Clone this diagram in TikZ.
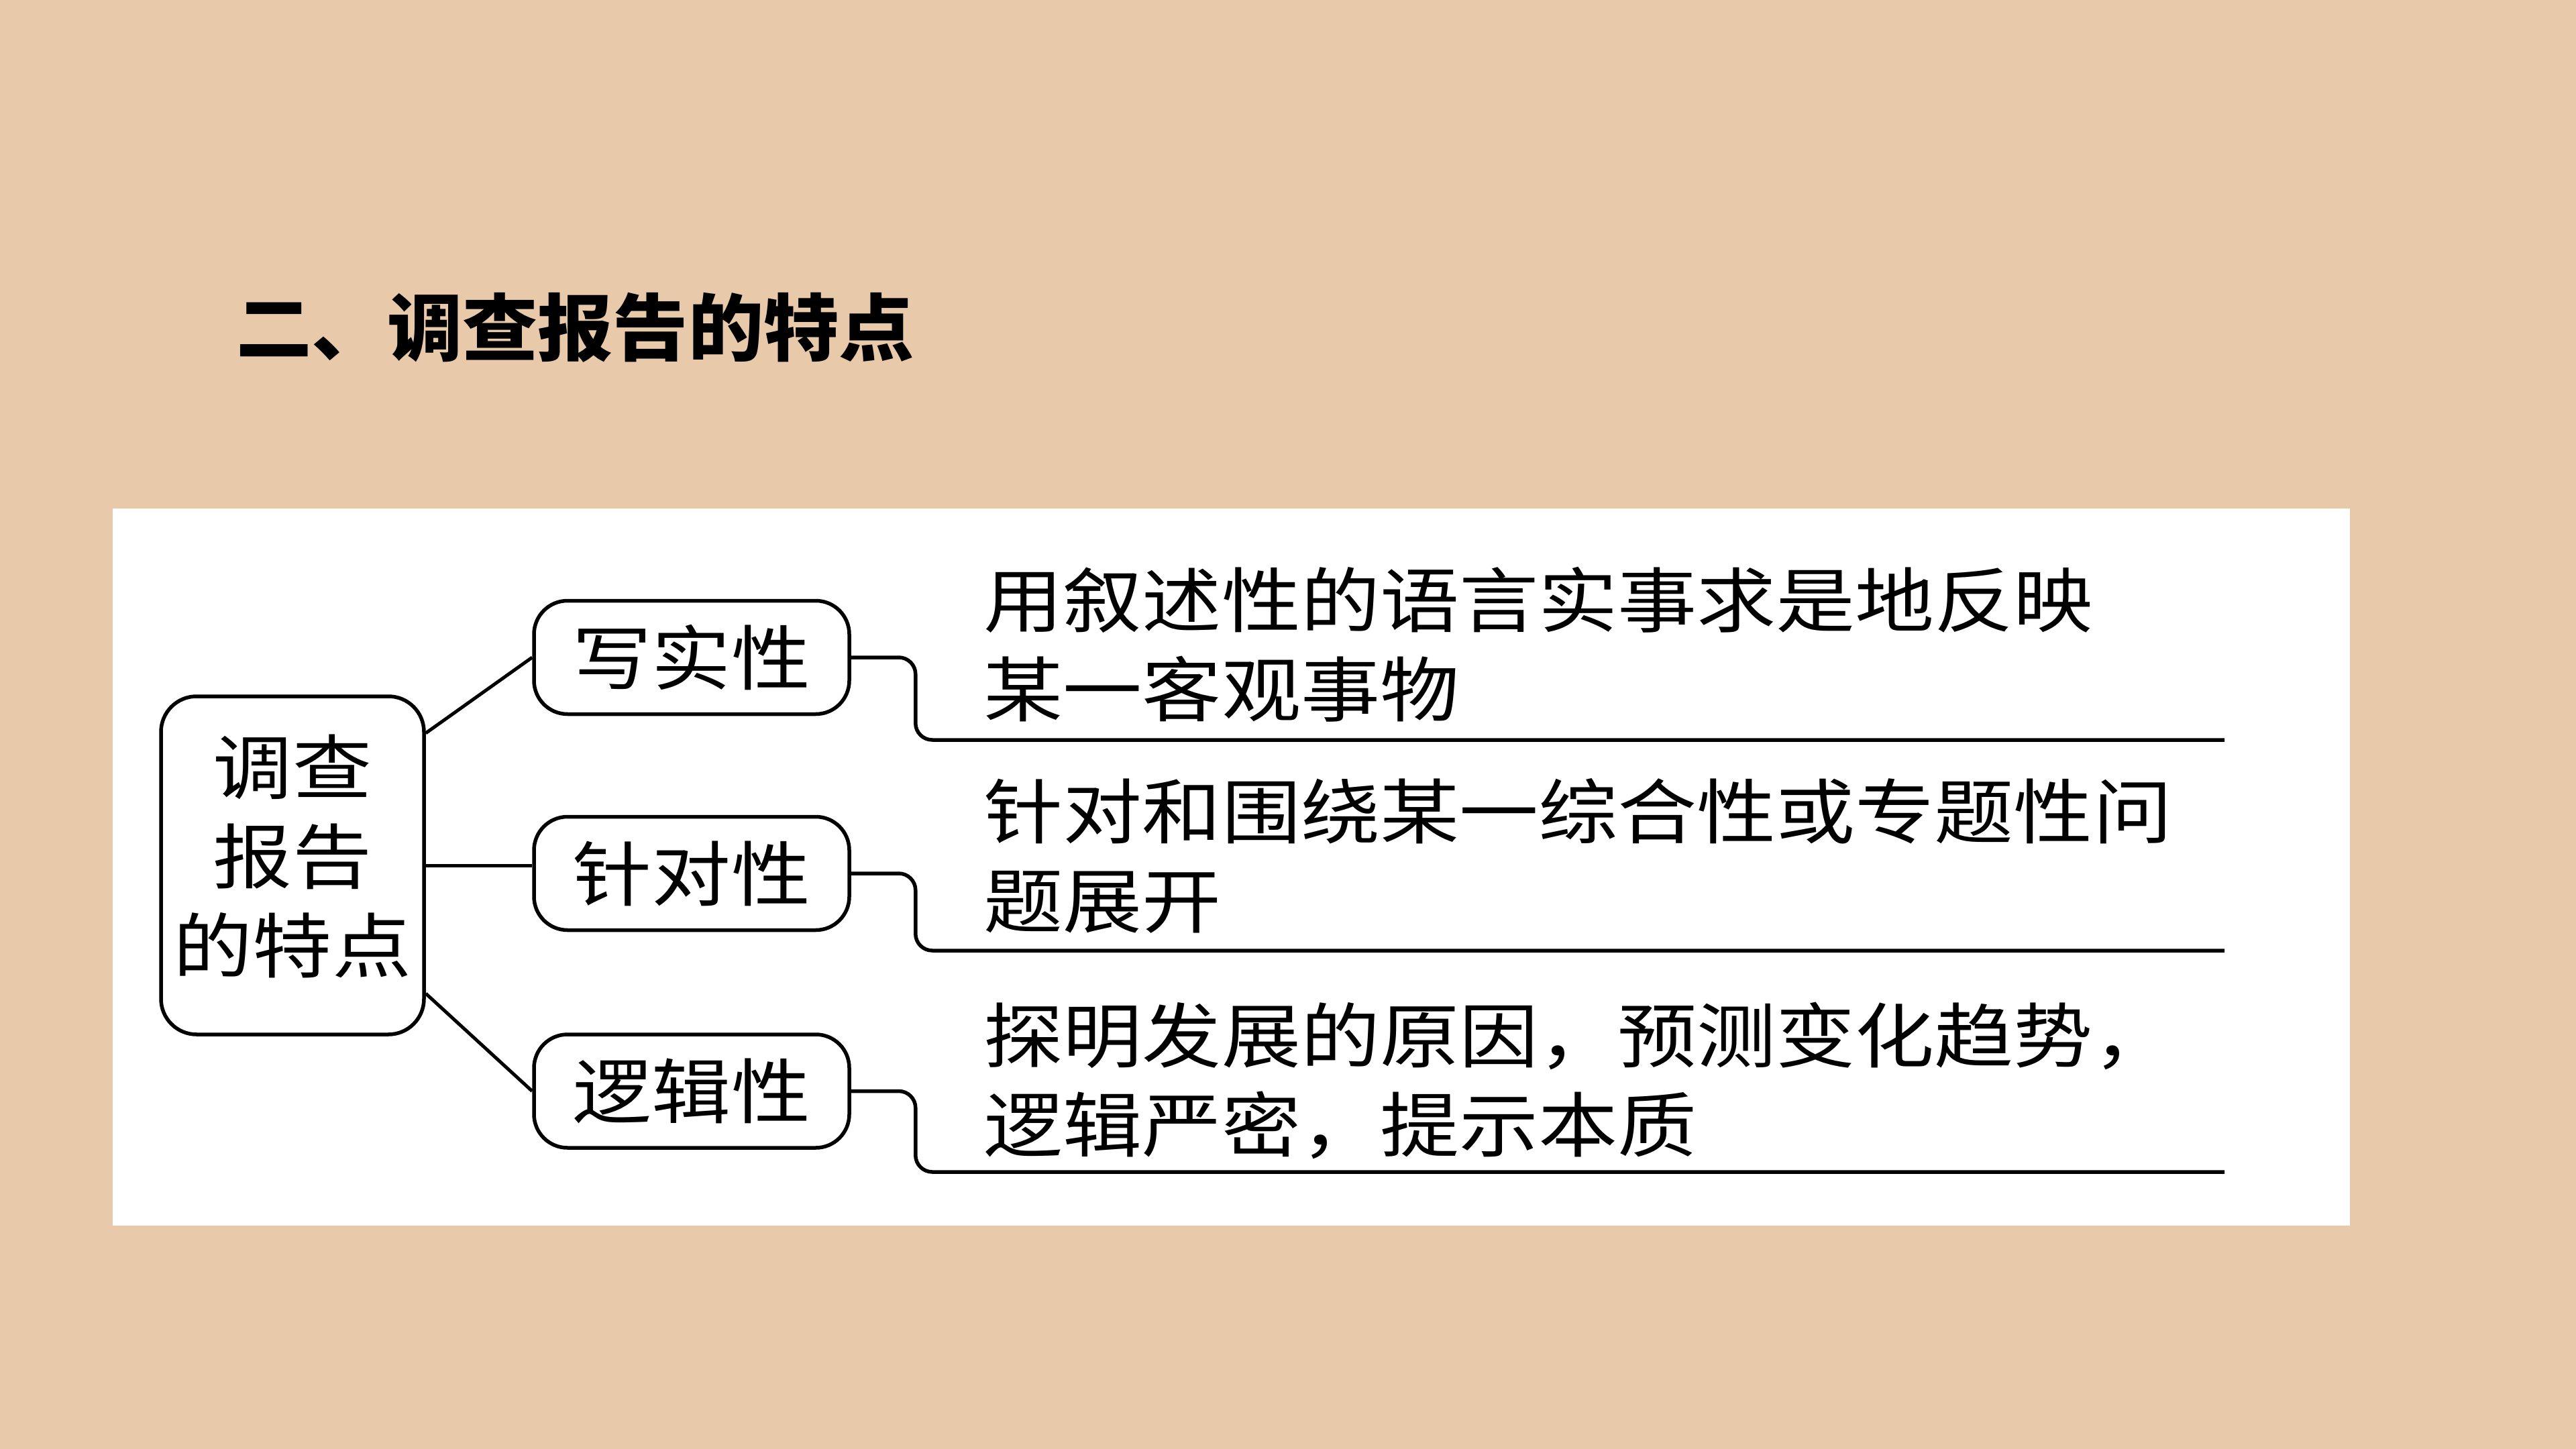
\documentclass[tikz,border=0pt]{standalone}
\usepackage{fontspec}
\usetikzlibrary{calc}
\newfontfamily\cjk[FakeStretch=1.12]{Noto Sans CJK SC}
\newfontfamily\cjkt[FakeStretch=1.03]{Noto Sans CJK SC}
\definecolor{bg}{RGB}{232,202,170}
\begin{document}
\begin{tikzpicture}[x=1cm,y=1cm,
  box/.style={draw, line width=0.055cm, rounded corners=0.5cm, fill=white, inner sep=0pt,
    font=\cjk\fontsize{30}{37.8}\selectfont},
  conn/.style={line width=0.05cm},
  bracket/.style={line width=0.055cm, rounded corners=0.25cm},
  desc/.style={anchor=west, align=left, inner sep=0pt,
    font=\cjk\fontsize{30}{37.8}\selectfont}]
\fill[bg] (0,0) rectangle (38.4,-21.6);
\useasboundingbox (0,0) rectangle (38.4,-21.6);
\fill[white] (1.68,-7.58) rectangle (35.03,-18.27);
% title
\node[anchor=west, inner sep=0pt, font=\cjkt\bfseries\fontsize{31}{37}\selectfont] (title) at (3.52,-4.88) {二、调查报告的特点};
% root
\node[box, rounded corners=0.53cm, minimum width=3.92cm, minimum height=5.04cm] (root) at (4.36,-12.90)
  {\raisebox{0.13cm}{\begin{tabular}{@{}c@{}}调查\\报告\\的特点\end{tabular}}};
% children
\node[box, minimum width=4.70cm, minimum height=1.69cm] (c1) at (10.31,-9.80) {写实性};
\node[box, minimum width=4.70cm, minimum height=1.69cm] (c2) at (10.31,-13.02) {针对性};
\node[box, minimum width=4.70cm, minimum height=1.69cm] (c3) at (10.31,-16.265) {逻辑性};
% connectors
\draw[conn] ($(root.north east)!0.113!(root.south east)$) -- (c1.west);
\draw[conn] (root.east) -- (root.east -| c2.west);
\draw[conn] ($(root.north east)!0.875!(root.south east)$) -- (c3.west);
% brackets
\coordinate (e1) at (33.16,-11.03);
\coordinate (e2) at (33.16,-14.17);
\coordinate (e3) at (33.16,-17.47);
\draw[bracket] (c1.east) -- ++(0.96,0) |- (e1);
\draw[bracket] (c2.east) -- ++(0.96,0) |- (e2);
\draw[bracket] (c3.east) -- ++(0.96,0) |- (e3);
% descriptions
\node[desc] (d1) at (14.66,-9.605) {用叙述性的语言实事求是地反映\\某一客观事物};
\node[desc] (d2) at (14.66,-12.755) {针对和围绕某一综合性或专题性问\\题展开};
\node[desc] (d3) at (14.66,-16.11) {探明发展的原因，预测变化趋势，\\逻辑严密，提示本质};
\end{tikzpicture}
\end{document}
